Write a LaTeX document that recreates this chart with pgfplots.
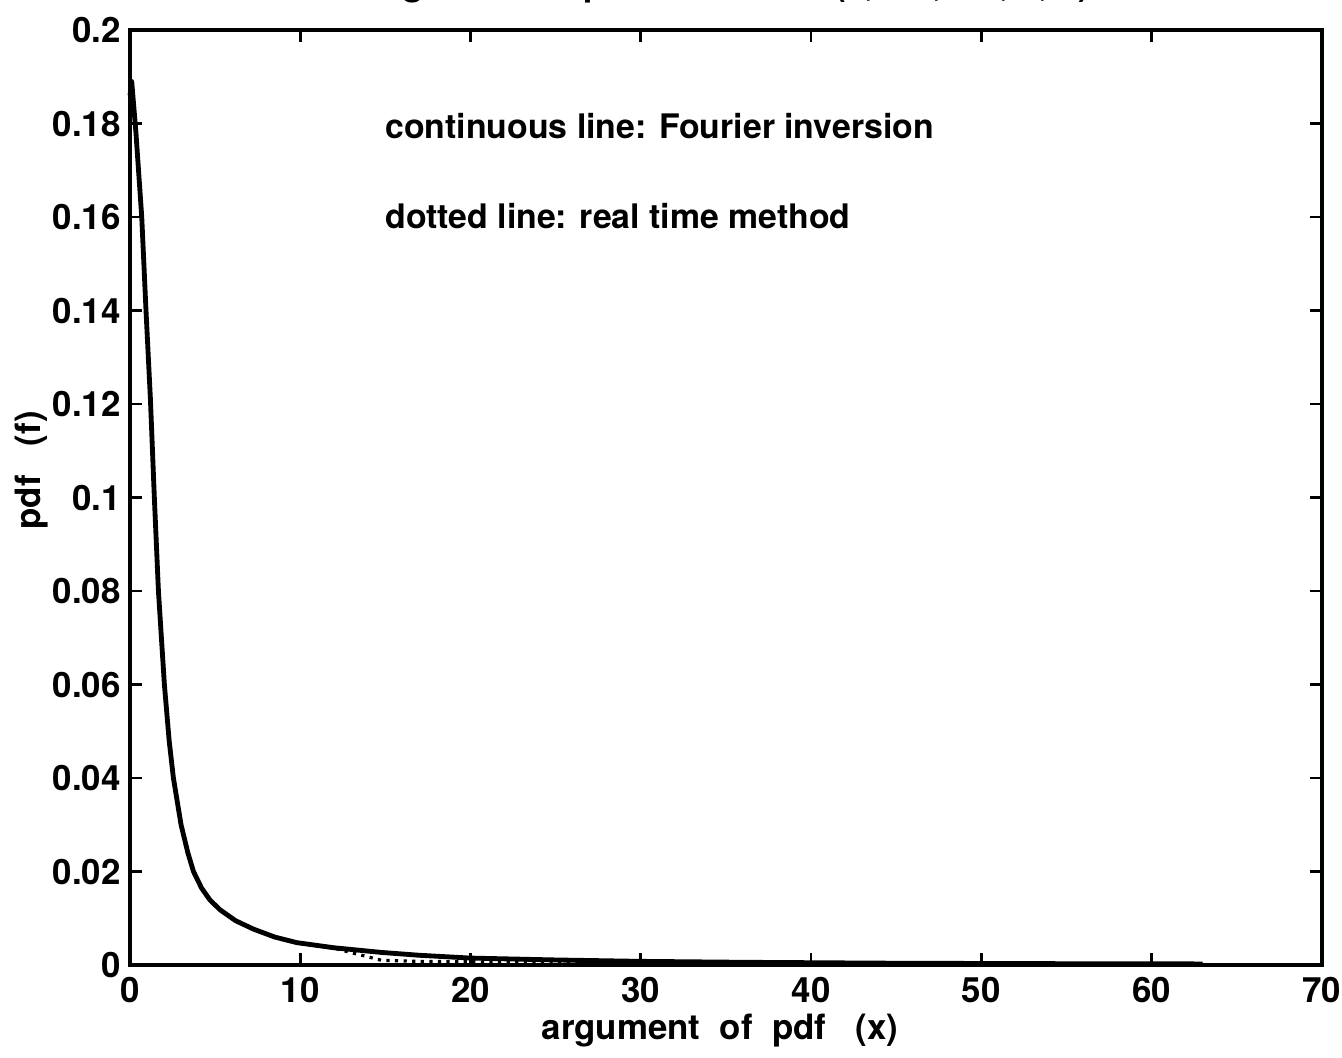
\documentclass[border=0pt]{standalone}
\usepackage{fontspec}
\setmainfont{TeX Gyre Heros}
\usepackage{pgfplots}
\pgfplotsset{compat=1.18}
\newcommand{\lbl}{\bfseries\fontsize{13}{15}\selectfont}
\newcommand{\ann}{\bfseries\fontsize{12.6}{15}\selectfont}
\begin{document}
\begin{tikzpicture}[x=1pt,y=1pt]
\begin{axis}[
  at={(0,0)}, anchor=south west, scale only axis,
  width=444.1pt, height=348.4pt,
  xmin=0, xmax=70, ymin=0, ymax=0.2,
  xtick={0,10,20,30,40,50,60,70},
  ytick={0,0.02,0.04,0.06,0.08,0.1,0.12,0.14,0.16,0.18,0.2},
  yticklabels={0,0.02,0.04,0.06,0.08,0.1,0.12,0.14,0.16,0.18,0.2},
  scaled y ticks=false,
  tick align=inside, major tick length=4.5pt,
  every tick/.style={black, line width=1pt},
  axis line style={line width=1.4pt},
  ticklabel style={font=\lbl},
  /pgf/number format/assume math mode=true,
  xticklabel style={yshift=-1pt},
  xlabel={argument\ \ of\ \ pdf\ \ \ (x)},
  ylabel={pdf\ \ \ (f)},
  label style={font=\lbl},
  xlabel style={at={(axis description cs:0.495,0)}, anchor=base, yshift=-27.9pt},
  ylabel style={at={(axis description cs:-0.0822,0.529)}, anchor=center},
  title={Fig. 2:\ \ \ Computation\ \ \ of\ \ \ f (2, 0.5, 0.5, 1, x)},
  title style={font=\lbl, at={(axis description cs:0.504,1)}, anchor=base, yshift=6.7pt},
  clip=false,
]
\addplot[black, line width=1.8pt, line join=round] coordinates {
(0,0.186) (0.1,0.189) (0.35,0.178) (0.69,0.160) (0.94,0.140) (1.2,0.121)
(1.43,0.100) (1.67,0.080) (2.02,0.060) (2.3,0.048) (2.55,0.040) (3.0,0.030)
(3.4,0.024) (3.73,0.020) (4.2,0.0165) (4.7,0.0139) (5.3,0.0118) (6.2,0.0095)
(7.25,0.0077) (8.5,0.0060) (9.8,0.0048) (12,0.0037) (14.8,0.0027) (17,0.0021)
(20,0.0015) (25,0.0011) (30,0.0008) (36,0.0006) (45,0.0004) (55,0.0003) (63,0.00025)
};
\addplot[black, line width=1.2pt, dotted] coordinates {
(0,0.186) (0.1,0.189) (0.35,0.178) (0.69,0.160) (0.94,0.140) (1.2,0.121)
(1.43,0.100) (1.67,0.080) (2.02,0.060) (2.3,0.048) (2.55,0.040) (3.0,0.030)
(3.4,0.024) (3.73,0.020) (4.2,0.0165) (4.7,0.0139) (5.3,0.0118) (6.2,0.0095)
(7.25,0.0077) (8.5,0.0060) (9.8,0.0048) (12,0.0036) (14.8,0.0010) (17,0.0008)
(20,0.0007) (25,0.0006) (30,0.0005) (36,0.0004) (45,0.0003) (55,0.0002) (63,0.0002)
};
\node[anchor=base west, inner sep=0pt, font=\ann] at (rel axis cs:0.2139,0.8843) {continuous line: Fourier inversion};
\node[anchor=base west, inner sep=0pt, font=\ann] at (rel axis cs:0.2139,0.7882) {dotted line: real time method};
\end{axis}
\pgfresetboundingbox
\useasboundingbox (-48.44,-34.28) rectangle (451.6,359.6);
\end{tikzpicture}
\end{document}
